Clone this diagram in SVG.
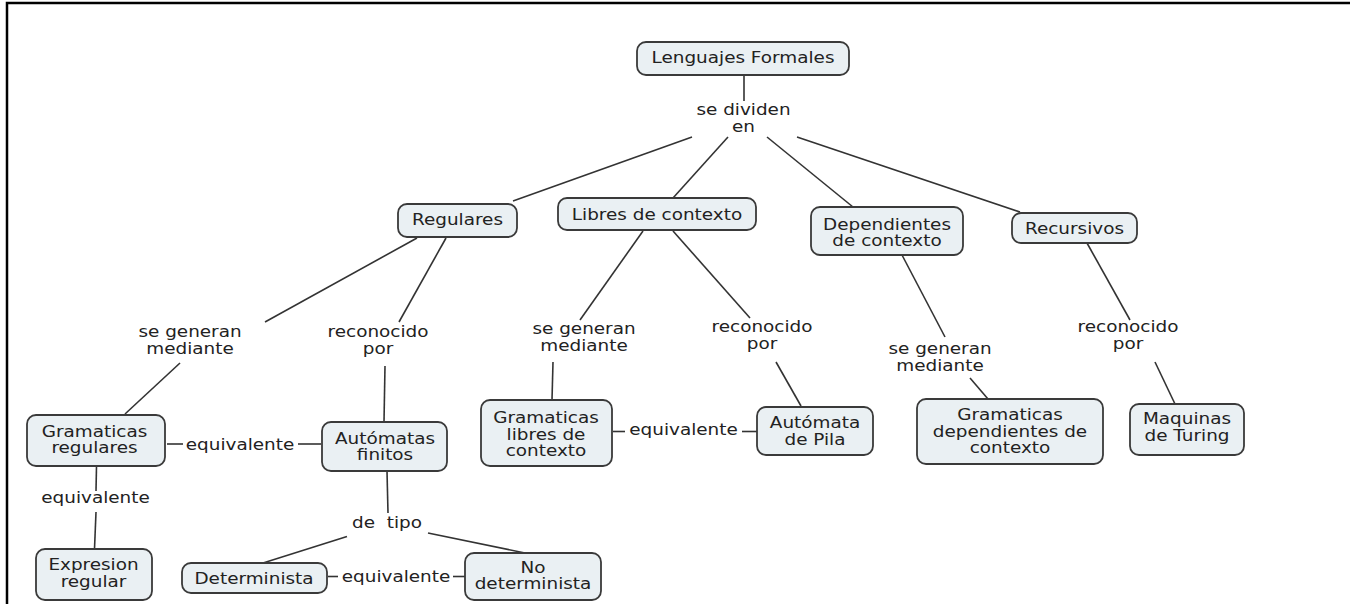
<svg xmlns="http://www.w3.org/2000/svg" width="1350" height="604" viewBox="0 0 1350 604">
<style>
.bg{fill:#ffffff}
.frame{stroke:#000;stroke-width:2.5;fill:none}
.box{fill:#eaf0f3;stroke:#3a3a3a;stroke-width:1.8}
.ln{stroke:#333;stroke-width:1.6;fill:none}
text{font-family:"DejaVu Sans","Verdana",sans-serif;font-size:16px;fill:#222;text-anchor:middle}
</style>
<rect class="bg" x="0" y="0" width="1350" height="604"/>
<path class="frame" d="M7,604 V3 H1350"/>
<g id="connectors">
<line class="ln" x1="744" y1="75" x2="744" y2="101"/>
<line class="ln" x1="692" y1="137" x2="513" y2="201"/>
<line class="ln" x1="728" y1="137" x2="673" y2="198"/>
<line class="ln" x1="767" y1="137" x2="853" y2="207"/>
<line class="ln" x1="797" y1="137" x2="1020" y2="212"/>
<line class="ln" x1="417" y1="238" x2="265" y2="322"/>
<line class="ln" x1="446" y1="238" x2="399" y2="322"/>
<line class="ln" x1="180" y1="363" x2="125" y2="414"/>
<line class="ln" x1="385" y1="366" x2="384" y2="422"/>
<line class="ln" x1="643" y1="231" x2="580" y2="320"/>
<line class="ln" x1="673" y1="231" x2="750" y2="318"/>
<line class="ln" x1="553" y1="362" x2="552" y2="400"/>
<line class="ln" x1="776" y1="362" x2="801" y2="406"/>
<line class="ln" x1="902" y1="255" x2="945" y2="337"/>
<line class="ln" x1="970" y1="378" x2="988" y2="399"/>
<line class="ln" x1="1087" y1="243" x2="1130" y2="320"/>
<line class="ln" x1="1155" y1="362" x2="1175" y2="404"/>
<line class="ln" x1="167" y1="444" x2="183" y2="444"/>
<line class="ln" x1="298" y1="444" x2="321" y2="444"/>
<line class="ln" x1="96.5" y1="466" x2="96" y2="491"/>
<line class="ln" x1="96" y1="512" x2="94.5" y2="549"/>
<line class="ln" x1="387" y1="471" x2="388" y2="513"/>
<line class="ln" x1="347" y1="536.5" x2="263" y2="563"/>
<line class="ln" x1="428" y1="533" x2="525" y2="553"/>
<line class="ln" x1="328" y1="576.5" x2="338" y2="576.5"/>
<line class="ln" x1="453" y1="576.5" x2="465" y2="576.5"/>
<line class="ln" x1="613" y1="431.5" x2="625" y2="431.5"/>
<line class="ln" x1="742" y1="431.5" x2="757" y2="431.5"/>
<text transform="matrix(1.15 0 0 1 743.5 115)"><tspan x="0" y="0">se dividen</tspan><tspan x="0" y="16.7">en</tspan></text>
<text transform="matrix(1.15 0 0 1 190 337)"><tspan x="0" y="0">se generan</tspan><tspan x="0" y="17">mediante</tspan></text>
<text transform="matrix(1.15 0 0 1 378 337)"><tspan x="0" y="0">reconocido</tspan><tspan x="0" y="17">por</tspan></text>
<text transform="matrix(1.15 0 0 1 584 334)"><tspan x="0" y="0">se generan</tspan><tspan x="0" y="17">mediante</tspan></text>
<text transform="matrix(1.15 0 0 1 762 332)"><tspan x="0" y="0">reconocido</tspan><tspan x="0" y="17">por</tspan></text>
<text transform="matrix(1.15 0 0 1 940 354)"><tspan x="0" y="0">se generan</tspan><tspan x="0" y="17">mediante</tspan></text>
<text transform="matrix(1.15 0 0 1 1128 332)"><tspan x="0" y="0">reconocido</tspan><tspan x="0" y="17">por</tspan></text>
<text transform="matrix(1.15 0 0 1 240 450)">equivalente</text>
<text transform="matrix(1.15 0 0 1 95.5 502.7)">equivalente</text>
<text transform="matrix(1.15 0 0 1 387 528.3)" style="white-space:pre">de  tipo</text>
<text transform="matrix(1.15 0 0 1 396 581.7)">equivalente</text>
<text transform="matrix(1.15 0 0 1 683.5 435)">equivalente</text>
</g>
<g id="n-lenguajes">
<rect class="box" x="637" y="42" width="212" height="33" rx="9"/>
<text transform="matrix(1.15 0 0 1 743 63)">Lenguajes Formales</text>
</g>
<g id="n-regulares">
<rect class="box" x="398" y="204" width="119" height="33" rx="9"/>
<text transform="matrix(1.15 0 0 1 457.5 225)">Regulares</text>
</g>
<g id="n-libres">
<rect class="box" x="558" y="198" width="198" height="32" rx="9"/>
<text transform="matrix(1.15 0 0 1 657 220)">Libres de contexto</text>
</g>
<g id="n-dependientes">
<rect class="box" x="811" y="207" width="152" height="48" rx="9"/>
<text transform="matrix(1.15 0 0 1 887 229.5)"><tspan x="0" y="0">Dependientes</tspan><tspan x="0" y="16.2">de contexto</tspan></text>
</g>
<g id="n-recursivos">
<rect class="box" x="1012" y="213" width="125" height="30" rx="9"/>
<text transform="matrix(1.15 0 0 1 1074.5 233.5)">Recursivos</text>
</g>
<g id="n-gramreg">
<rect class="box" x="27" y="415" width="138" height="51" rx="9"/>
<text transform="matrix(1.15 0 0 1 94.5 437)"><tspan x="0" y="0">Gramaticas</tspan><tspan x="0" y="16">regulares</tspan></text>
</g>
<g id="n-automatas">
<rect class="box" x="322" y="422" width="125" height="49" rx="9"/>
<text transform="matrix(1.15 0 0 1 385 444)"><tspan x="0" y="0">Autómatas</tspan><tspan x="0" y="16">finitos</tspan></text>
</g>
<g id="n-expresion">
<rect class="box" x="36" y="549" width="116" height="51" rx="9"/>
<text transform="matrix(1.15 0 0 1 93.5 570)"><tspan x="0" y="0">Expresion</tspan><tspan x="0" y="16.7">regular</tspan></text>
</g>
<g id="n-determinista">
<rect class="box" x="182" y="563" width="145" height="30" rx="9"/>
<text transform="matrix(1.15 0 0 1 254 584)">Determinista</text>
</g>
<g id="n-nodeterminista">
<rect class="box" x="465" y="553" width="136" height="47" rx="9"/>
<text transform="matrix(1.15 0 0 1 533 572.7)"><tspan x="0" y="0">No</tspan><tspan x="0" y="16.3">determinista</tspan></text>
</g>
<g id="n-gramlibres">
<rect class="box" x="481" y="400" width="131" height="66" rx="9"/>
<text transform="matrix(1.15 0 0 1 546 423.3)"><tspan x="0" y="0">Gramaticas</tspan><tspan x="0" y="16.5">libres de</tspan><tspan x="0" y="33">contexto</tspan></text>
</g>
<g id="n-pila">
<rect class="box" x="757" y="407" width="116" height="48" rx="9"/>
<text transform="matrix(1.15 0 0 1 815 428.3)"><tspan x="0" y="0">Autómata</tspan><tspan x="0" y="16.7">de Pila</tspan></text>
</g>
<g id="n-gramdep">
<rect class="box" x="917" y="399" width="186" height="65" rx="9"/>
<text transform="matrix(1.15 0 0 1 1010 420)"><tspan x="0" y="0">Gramaticas</tspan><tspan x="0" y="16.7">dependientes de</tspan><tspan x="0" y="33.5">contexto</tspan></text>
</g>
<g id="n-turing">
<rect class="box" x="1130" y="404" width="114" height="51" rx="9"/>
<text transform="matrix(1.15 0 0 1 1187 424)"><tspan x="0" y="0">Maquinas</tspan><tspan x="0" y="17.5">de Turing</tspan></text>
</g>
</svg>
